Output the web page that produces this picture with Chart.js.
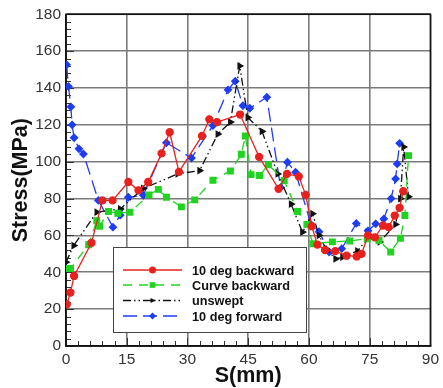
<!DOCTYPE html>
<html>
<head>
<meta charset="utf-8">
<script src="https://cdn.jsdelivr.net/npm/chart.js@4/dist/chart.umd.min.js"></script>
<style>
  html, body { margin: 0; background: #fff; }
</style>
</head>
<body>
<canvas id="c" width="443" height="388"></canvas>
<script>
// values (S in mm, stress in MPa)
const xTicks = [0, 15, 30, 45, 60, 75, 90];
const yTicks = [0, 20, 40, 60, 80, 100, 120, 140, 160, 180];
const seriesNames = ["10 deg backward", "Curve backward", "unswept", "10 deg forward"];

const redX = [0.2, 1.1, 2.0, 6.3, 9.0, 11.5, 15.4, 17.9, 20.3, 23.6, 25.6, 27.9, 33.6, 35.4, 37.3, 43.0, 47.7, 52.5, 54.6, 57.5, 59.2, 60.7, 62.1, 64.0, 66.5, 69.3, 71.8, 73.0, 74.6, 76.3, 78.3, 79.7, 81.2, 82.4, 83.3];
const redY = [22.6, 29, 38, 56, 79, 79, 89, 84.5, 89, 104.5, 116, 94.5, 114, 123, 121.5, 125.6, 102.6, 85.3, 93.4, 92, 82, 65, 55, 52, 51.5, 49, 48.6, 50, 60, 59, 65.4, 64.5, 70.8, 75, 84];

const greenX = [0.2, 1.1, 5.6, 7.6, 8.3, 10.5, 12.8, 15.8, 20.5, 22.8, 24.8, 28.5, 31.8, 36.3, 40.6, 43.3, 44.3, 45.7, 47.8, 50.0, 53.9, 57.2, 59.5, 61.0, 65.8, 70.1, 74.4, 77.3, 80.2, 82.6, 83.7, 84.6];
const greenY = [42, 42, 55, 68, 65, 73, 72, 72.6, 82, 85, 80.7, 75.5, 79.3, 90, 95, 104, 114, 93, 92.5, 98.4, 89.8, 73, 66, 55.5, 56.5, 57, 58.2, 57.3, 51, 58.5, 70.8, 103.3];

const blackX = [0, 1.9, 7.6, 13.4, 19.1, 27.6, 33.0, 37.5, 40.6, 42.9, 44.9, 48.4, 52.3, 55.6, 58.4, 60.9, 62.5, 64.2, 66.6, 68.3, 72.0, 74.5, 77.5, 81.4, 82.6, 83.4, 84.6];
const blackY = [45.5, 54.5, 72.6, 74.4, 85.5, 93.4, 95.2, 115, 121.5, 152, 124, 116.5, 93.4, 77, 61.8, 71.8, 60, 52.8, 47.3, 48.2, 51.6, 58.5, 56.5, 66, 80, 108, 81];

const blueX = [0.15, 0.6, 1.2, 1.5, 2.0, 3.2, 4.3, 8.0, 11.6, 13.4, 15.4, 19.1, 24.8, 31.0, 36.3, 40.0, 41.8, 43.7, 45.4, 49.6, 53.0, 54.7, 56.7, 60.5, 62.5, 65.0, 68.1, 71.7, 74.6, 76.5, 78.5, 80.3, 81.4, 81.8, 82.4];
const blueY = [152.6, 140.8, 129.8, 120, 113, 107, 104.2, 79, 64.5, 71, 80.7, 81.8, 110.3, 102, 119.6, 139, 143.7, 130.4, 129, 135, 86, 99.7, 94.3, 66, 62, 51, 52.8, 66.5, 62.5, 66.3, 69, 80, 90.7, 98.8, 110];

function pairs(xs, ys) { return xs.map((x, i) => ({ x: x, y: ys[i] })); }

const FONT = "Arial, 'Liberation Sans', sans-serif";

// frame on all four sides + small ticks inside, bottom and left
const frameTicks = {
  id: 'frameTicks',
  beforeDatasetsDraw(chart) {
    const { ctx, chartArea: a, scales: { x, y } } = chart;
    ctx.save();
    ctx.strokeStyle = '#333';
    ctx.lineWidth = 1;
    ctx.beginPath();
    for (let v = 0; v <= 90; v += 3) {
      let px = Math.round(x.getPixelForValue(v)) + 0.5;
      ctx.moveTo(px, a.bottom); ctx.lineTo(px, a.bottom - (v % 15 ? 5 : 8));
    }
    for (let v = 0; v <= 180; v += 4) {
      let py = Math.round(y.getPixelForValue(v)) + 0.5;
      ctx.moveTo(a.left, py); ctx.lineTo(a.left + (v % 20 ? 5 : 8), py);
    }
    ctx.stroke();
    ctx.strokeStyle = '#111';
    ctx.lineWidth = 1.5;
    ctx.strokeRect(a.left, a.top, a.right - a.left, a.bottom - a.top);
    ctx.restore();
  }
};

function drawMark(ctx, style, x, y, r) {
  ctx.beginPath();
  if (style === 'circle') ctx.arc(x, y, r, 0, Math.PI * 2);
  else if (style === 'rect') { let s = r * Math.SQRT1_2; ctx.rect(x - s, y - s, 2 * s, 2 * s); }
  else if (style === 'rectRot') { ctx.moveTo(x, y - r); ctx.lineTo(x + r, y); ctx.lineTo(x, y + r); ctx.lineTo(x - r, y); ctx.closePath(); }
  else { ctx.moveTo(x + r, y); ctx.lineTo(x - r * 0.6, y - r * 0.8); ctx.lineTo(x - r * 0.6, y + r * 0.8); ctx.closePath(); }
  ctx.fill();
}

// legend box sitting inside the plot
const boxLegend = {
  id: 'boxLegend',
  afterDraw(chart) {
    const ctx = chart.ctx;
    const bx = 113, by = 247, bw = 193, bh = 85;
    ctx.save();
    ctx.fillStyle = '#fff';
    ctx.fillRect(bx, by, bw, bh);
    ctx.strokeStyle = '#444';
    ctx.lineWidth = 1;
    ctx.strokeRect(bx + 0.5, by + 0.5, bw, bh);
    const rows = [270, 285, 300.5, 316];
    chart.data.datasets.forEach((ds, i) => {
      const yy = rows[i];
      ctx.strokeStyle = ds.borderColor;
      ctx.lineWidth = ds.borderWidth;
      ctx.setLineDash(ds.borderDash || []);
      ctx.beginPath();
      ctx.moveTo(123, yy); ctx.lineTo(182, yy);
      ctx.stroke();
      ctx.setLineDash([]);
      ctx.fillStyle = ds.pointBackgroundColor;
      drawMark(ctx, ds.pointStyle, 152.5, yy, ds.pointRadius);
      ctx.fillStyle = '#111';
      ctx.font = 'bold 12.7px ' + FONT;
      ctx.textBaseline = 'middle';
      ctx.fillText(seriesNames[i], 192, yy + 1);
    });
    ctx.restore();
  }
};

new Chart(document.getElementById('c'), {
  type: 'line',
  data: {
    datasets: [
      { label: seriesNames[0], data: pairs(redX, redY), borderColor: '#e8211d', pointBackgroundColor: '#e8211d', pointBorderColor: '#e8211d',
        borderWidth: 1.3, pointStyle: 'circle', pointRadius: 3.5 },
      { label: seriesNames[1], data: pairs(greenX, greenY), borderColor: '#1fd41f', pointBackgroundColor: '#1fd41f', pointBorderColor: '#1fd41f',
        borderWidth: 1.3, borderDash: [9, 7], pointStyle: 'rect', pointRadius: 4 },
      { label: seriesNames[2], data: pairs(blackX, blackY), borderColor: '#111', pointBackgroundColor: '#111', pointBorderColor: '#111',
        borderWidth: 1.3, borderDash: [8, 3, 1.5, 3, 1.5, 3], pointStyle: 'triangle', pointRotation: 90, pointRadius: 3.2 },
      { label: seriesNames[3], data: pairs(blueX, blueY), borderColor: '#1f3cf5', pointBackgroundColor: '#1f3cf5', pointBorderColor: '#1f3cf5',
        borderWidth: 1.3, borderDash: [14, 6], pointStyle: 'rectRot', pointRadius: 3.5 }
    ]
  },
  options: {
    responsive: false,
    animation: false,
    layout: { padding: { top: 13, right: 11, left: 0, bottom: 0 } },
    plugins: { legend: { display: false }, tooltip: { enabled: false } },
    elements: { line: { tension: 0, fill: false }, point: { borderWidth: 0 } },
    scales: {
      x: {
        type: 'linear', min: 0, max: 90,
        afterBuildTicks: s => { s.ticks = xTicks.map(v => ({ value: v })); },
        afterFit: s => { s.height = 42; },
        grid: { color: '#7a7a7a', lineWidth: 1.6, drawTicks: false },
        border: { color: '#111', width: 1.5 },
        ticks: { color: '#333', font: { family: FONT, size: 15.5 }, padding: 4, maxRotation: 0 },
        title: { display: true, text: 'S(mm)', color: '#111', padding: { top: 0, bottom: 0 },
          font: { family: FONT, size: 21.5, weight: 'bold', lineHeight: 1.15 } }
      },
      y: {
        type: 'linear', min: 0, max: 180,
        afterBuildTicks: s => { s.ticks = yTicks.map(v => ({ value: v })); },
        afterFit: s => { s.width = 66; },
        grid: { color: '#7a7a7a', lineWidth: 1.6, drawTicks: false },
        border: { color: '#111', width: 1.5 },
        ticks: { color: '#333', font: { family: FONT, size: 15.5 }, padding: 5 },
        title: { display: true, text: 'Stress(MPa)', color: '#111', padding: { top: 9, bottom: 0 },
          font: { family: FONT, size: 21.5, weight: 'bold', lineHeight: 1.15 } }
      }
    }
  },
  plugins: [frameTicks, boxLegend]
});
</script>
</body>
</html>
